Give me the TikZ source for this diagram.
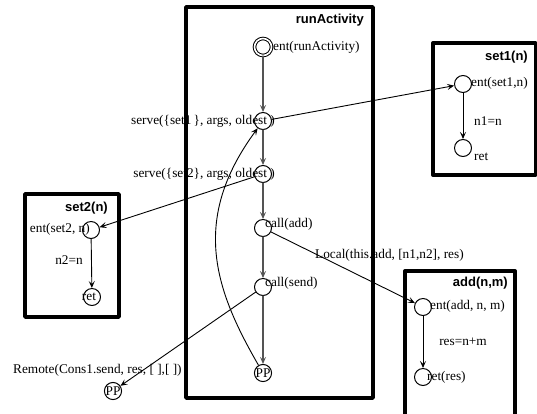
\documentclass[tikz,border=0pt]{standalone}
\usepackage{fontspec}
\setmainfont{Liberation Serif}
\newfontfamily\titlefont{Liberation Sans}
\usetikzlibrary{arrows.meta}
\definecolor{flowgray}{gray}{0.33}

\begin{document}
\begin{tikzpicture}[x=1pt,y=-1pt,line cap=round,line join=round,
    state/.style={circle,draw,line width=1pt,minimum size=17pt,inner sep=0pt},
    lbl/.style={inner sep=0pt,font=\fontsize{13.3}{15}\selectfont},
    ttl/.style={inner sep=0pt,anchor=east,font=\titlefont\bfseries\fontsize{13}{15}\selectfont},
    frame/.style={line width=3.4pt},
    flow/.style={draw=flowgray,line width=1.2pt,-{Stealth[length=7pt,width=6pt,inset=3pt]}},
    msg/.style={draw,line width=0.9pt,-{Stealth[length=7pt,width=6pt,inset=3pt]}}]
  \useasboundingbox (0,0) rectangle (537,413);
  % frames
  \draw[frame] (186,7) rectangle (373,398);
  \draw[frame] (433,43) rectangle (536,175);
  \draw[frame] (25,194) rectangle (119,317);
  \draw[frame] (405,271) rectangle (515,425);
  \node[ttl] (tRun) at (364,20) {runActivity};
  \node[ttl] (tSetA) at (528,57) {set1(n)};
  \node[ttl] (tSetB) at (108,208) {set2(n)};
  \node[ttl] (tAdd) at (508,283) {add(n,m)};
  % runActivity
  \node[state,double,double distance=1.6pt] (entRun) at (263,47) {};
  \node[state] (serveA) at (263,121) {};
  \node[state] (serveB) at (263,174) {};
  \node[state] (callAdd) at (263,228) {};
  \node[state] (callSend) at (263,287) {};
  \node[state,lbl] (ppRun) at (263,373) {PP};
  \node[lbl,anchor=west] (lEntRun) at (273,47) {ent(runActivity)};
  \node[lbl,anchor=east] (lServeA) at (275,121) {serve(\{set1\,\}, args, oldest )};
  \node[lbl,anchor=east] (lServeB) at (275,174) {serve(\{set2\}, args, oldest )};
  \node[lbl,anchor=west] (lCallAdd) at (265,224) {call(add)};
  \node[lbl,anchor=west] (lCallSend) at (265,283) {call(send)};
  \draw[flow] (entRun) -- (serveA);
  \draw[flow] (serveA) -- (serveB);
  \draw[flow] (serveB) -- (callAdd);
  \draw[flow] (callAdd) -- (callSend);
  \draw[flow] (callSend) -- (ppRun);
  \draw[msg] (ppRun) .. controls (215,290) and (190,220) .. (serveA);
  % set1
  \node[state] (entSetA) at (463,84) {};
  \node[state] (retSetA) at (463,148) {};
  \node[lbl,anchor=west] (lEntSetA) at (471,83) {ent(set1,n)};
  \node[lbl,anchor=west] (lRetSetA) at (474,157) {ret};
  \node[lbl,anchor=west] (lBodyA) at (474,121) {n1=n};
  \draw[msg] (entSetA) -- (retSetA);
  % set2
  \node[state] (entSetB) at (91,230) {};
  \node[state] (retSetB) at (92,297) {};
  \node[lbl,anchor=east] (lEntSetB) at (90,229) {ent(set2, n)};
  \node[lbl] (lRetSetB) at (89,297) {ret};
  \node[lbl] (lBodyB) at (69,260) {n2=n};
  \draw[msg] (entSetB) -- (retSetB);
  % add
  \node[state] (entAdd) at (423,307) {};
  \node[state] (retAdd) at (423,377) {};
  \node[lbl,anchor=west] (lEntAdd) at (430,306) {ent(add, n, m)};
  \node[lbl,anchor=west] (lRetAdd) at (427,377) {ret(res)};
  \node[lbl] (lBodyAdd) at (463,342) {res=n+m};
  \draw[msg] (entAdd) -- (retAdd);
  % remote
  \node[state,lbl,minimum size=15pt] (ppRemote) at (113,391) {PP};
  \node[lbl,anchor=west] (lRemote) at (13,370) {Remote(Cons1.send, res, [ ],[ ])};
  % calls between activities
  \draw[msg] (serveA) -- (entSetA);
  \draw[msg] (serveB) -- (entSetB);
  \draw[msg] (callAdd) -- (entAdd);
  \draw[msg] (callSend) -- (ppRemote);
  \node[lbl,anchor=west] (lLocal) at (315,255) {Local(this.add, [n1,n2], res)};
\end{tikzpicture}
\end{document}
